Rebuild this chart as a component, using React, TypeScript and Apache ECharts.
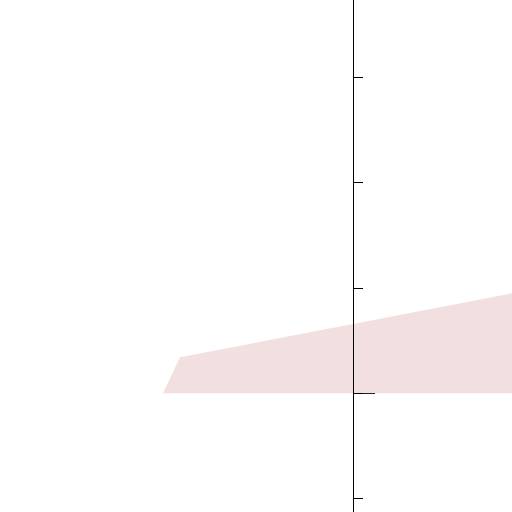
import React, { useEffect, useRef } from "react";
import * as echarts from "echarts";

const areaX = [-1.9, -1.73, 1.59];
const areaY = [0, 0.342, 0.95];
const yTicks = [-2, -1, 0, 1, 2, 3, 4];

export default function App() {
  const ref = useRef<HTMLDivElement>(null);
  useEffect(() => {
    const chart = echarts.init(ref.current!, null, { renderer: "svg" });
    chart.setOption({
      animation: false,
      grid: { left: 0, right: 0, top: 0, bottom: 0, containLabel: false },
      xAxis: {
        type: "value",
        min: -3.53,
        max: 1.59,
        show: false,
      },
      yAxis: {
        type: "value",
        min: yTicks[0],
        max: yTicks[yTicks.length - 1],
        interval: 1,
        z: 10,
        axisLine: { show: true, onZero: true, lineStyle: { color: "#000", width: 1 } },
        axisTick: { show: true, inside: true, length: 10, lineStyle: { color: "#000", width: 1 } },
        axisLabel: { show: false },
        splitLine: { show: false },
      },
      series: [
        {
          type: "line",
          data: areaX.map((x, i) => [x, areaY[i]]),
          showSymbol: false,
          symbol: "none",
          lineStyle: { width: 0, opacity: 0 },
          areaStyle: { color: "#f2e0e0", opacity: 1 },
          markLine: {
            silent: true,
            symbol: "none",
            label: { show: false },
            lineStyle: { color: "#222", width: 1, type: "solid" },
            data: [[{ coord: [0, 0] }, { coord: [0.22, 0] }]],
          },
        },
      ],
    });
    return () => chart.dispose();
  }, []);
  return (
    <div
      ref={ref}
      style={{ position: "fixed", left: 0, top: -28, width: 512, height: 632, background: "#fff" }}
    />
  );
}
